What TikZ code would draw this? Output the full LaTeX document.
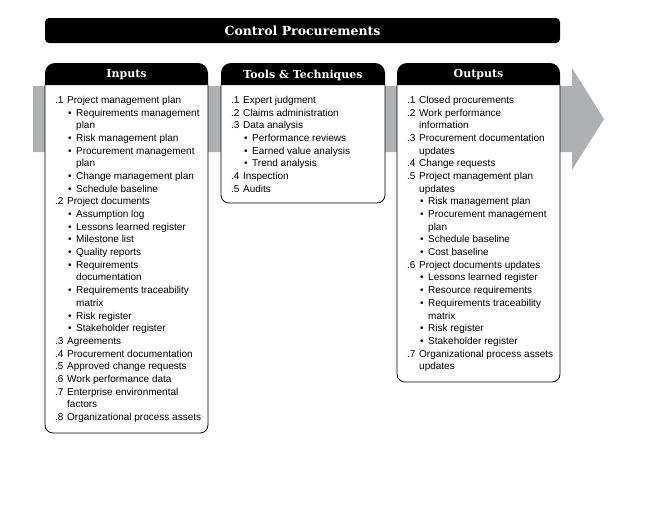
\documentclass[tikz,border=0pt]{standalone}
\usepackage{fontspec}
\setmainfont{Liberation Sans}
\newfontfamily\headfont{DejaVu Serif}
\newcommand{\numl}[2]{\makebox[12pt][l]{#1}#2}
\newcommand{\contl}[1]{\hspace*{12pt}#1}
\newcommand{\bull}[1]{\hspace*{13pt}\makebox[8pt][l]{•}#1}
\newcommand{\bcont}[1]{\hspace*{21pt}#1}
\definecolor{arrowgray}{RGB}{174,176,179}
\begin{document}
\begin{tikzpicture}[x=1pt,y=-1pt,
  listtext/.style={inner sep=0pt, anchor=north west, align=left, font=\fontsize{10}{12.68}\selectfont},
  headtext/.style={inner sep=0pt, text=white, font=\headfont\bfseries\fontsize{11}{13}\selectfont},
  titletext/.style={headtext, font=\headfont\bfseries\fontsize{12.5}{14}\selectfont},
  bodybox/.style={fill=white, draw=black, line width=0.8pt},
  headbox/.style={fill=black}]
\useasboundingbox (0,0) rectangle (653,504);
% title bar
\fill[rounded corners=4pt] (45,18) rectangle (560,43);
\node[titletext] (title) at (302.5,30.5) {Control Procurements};
% gray arrow
\fill[arrowgray] (33,86) -- (572,86) -- (572,68) -- (604,119) -- (572,170) -- (572,152) -- (33,152) -- cycle;
% boxes
\foreach \xa/\xb/\yb in {45/208/433, 221/385/203, 397/560/382}{
  \draw[bodybox] (\xa,85) [rounded corners=8pt] -- (\xa,\yb) -- (\xb,\yb) [sharp corners] -- (\xb,85);
  \fill[headbox] (\xa,85) [rounded corners=10pt] -- (\xa,63) -- (\xb,63) [sharp corners] -- (\xb,85) -- cycle;
}
\node[headtext] (inputs-h) at (126.5,75) {Inputs};
\node[headtext] (tools-h) at (303,75) {Tools \& Techniques};
\node[headtext] (outputs-h) at (478.5,75) {Outputs};
% inputs
\node[listtext] (inputs-b) at (55,96) {%
\numl{.1}{Project management plan}\\
\bull{Requirements management}\\
\bcont{plan}\\
\bull{Risk management plan}\\
\bull{Procurement management}\\
\bcont{plan}\\
\bull{Change management plan}\\
\bull{Schedule baseline}\\
\numl{.2}{Project documents}\\
\bull{Assumption log}\\
\bull{Lessons learned register}\\
\bull{Milestone list}\\
\bull{Quality reports}\\
\bull{Requirements}\\
\bcont{documentation}\\
\bull{Requirements traceability}\\
\bcont{matrix}\\
\bull{Risk register}\\
\bull{Stakeholder register}\\
\numl{.3}{Agreements}\\
\numl{.4}{Procurement documentation}\\
\numl{.5}{Approved change requests}\\
\numl{.6}{Work performance data}\\
\numl{.7}{Enterprise environmental}\\
\contl{factors}\\
\numl{.8}{Organizational process assets}};
% tools
\node[listtext] (tools-b) at (231,96) {%
\numl{.1}{Expert judgment}\\
\numl{.2}{Claims administration}\\
\numl{.3}{Data analysis}\\
\bull{Performance reviews}\\
\bull{Earned value analysis}\\
\bull{Trend analysis}\\
\numl{.4}{Inspection}\\
\numl{.5}{Audits}};
% outputs
\node[listtext] (outputs-b) at (407,96) {%
\numl{.1}{Closed procurements}\\
\numl{.2}{Work performance}\\
\contl{information}\\
\numl{.3}{Procurement documentation}\\
\contl{updates}\\
\numl{.4}{Change requests}\\
\numl{.5}{Project management plan}\\
\contl{updates}\\
\bull{Risk management plan}\\
\bull{Procurement management}\\
\bcont{plan}\\
\bull{Schedule baseline}\\
\bull{Cost baseline}\\
\numl{.6}{Project documents updates}\\
\bull{Lessons learned register}\\
\bull{Resource requirements}\\
\bull{Requirements traceability}\\
\bcont{matrix}\\
\bull{Risk register}\\
\bull{Stakeholder register}\\
\numl{.7}{Organizational process assets}\\
\contl{updates}};
\end{tikzpicture}
\end{document}
